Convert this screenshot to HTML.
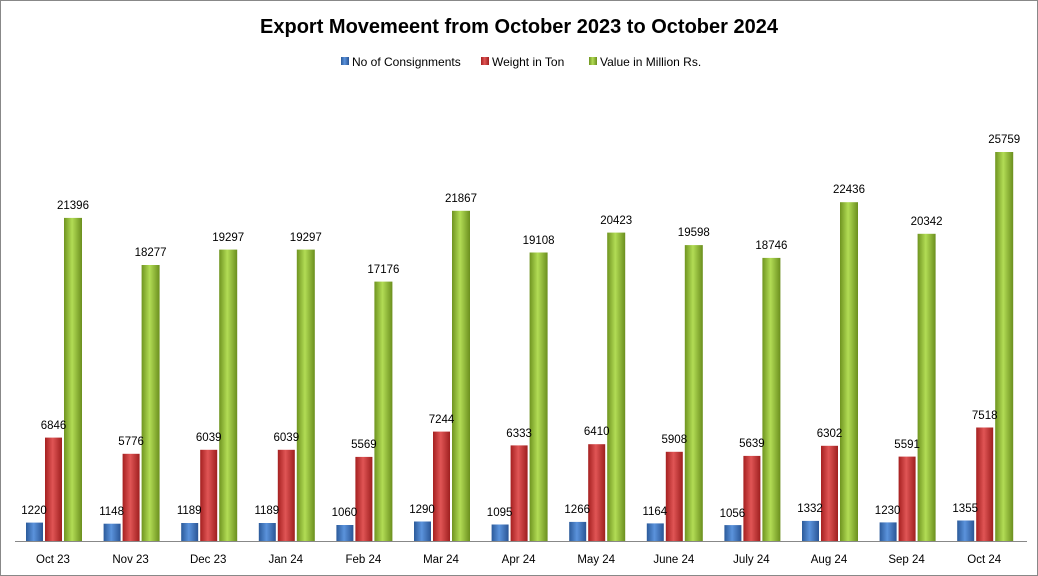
<!DOCTYPE html>
<html><head><meta charset="utf-8"><style>
html,body{margin:0;padding:0;background:#fff}
svg{display:block;font-family:"Liberation Sans",sans-serif}
</style></head><body>
<svg width="1038" height="576" viewBox="0 0 1038 576">
<defs>
<linearGradient id="b" x1="0" x2="1"><stop offset="0" stop-color="#2b5a9a"/><stop offset=".45" stop-color="#5b93dc"/><stop offset="1" stop-color="#2a5595"/></linearGradient>
<linearGradient id="r" x1="0" x2="1"><stop offset="0" stop-color="#a52020"/><stop offset=".45" stop-color="#e05555"/><stop offset="1" stop-color="#9e1f1f"/></linearGradient>
<linearGradient id="g" x1="0" x2="1"><stop offset="0" stop-color="#6f9420"/><stop offset=".45" stop-color="#b2dc55"/><stop offset="1" stop-color="#6b8f1e"/></linearGradient>
</defs>
<rect x="0.5" y="0.5" width="1037" height="575" fill="#fff" stroke="#888"/>
<text x="519" y="33" text-anchor="middle" font-size="20" font-weight="bold" fill="#000">Export Movemeent from October 2023 to October 2024</text>
<g font-size="12" fill="#000">
<rect x="341" y="57" width="8" height="8" fill="url(#b)"/><text x="352" y="66">No of Consignments</text>
<rect x="481" y="57" width="8" height="8" fill="url(#r)"/><text x="492" y="66">Weight in Ton</text>
<rect x="589" y="57" width="8" height="8" fill="url(#g)"/><text x="600" y="66">Value in Million Rs.</text>
</g>
<line x1="15" y1="541.5" x2="1027" y2="541.5" stroke="#888"/>
<g font-size="11.5" fill="#000" text-anchor="middle">
<g transform="translate(26,0)"><rect x="0" y="522.6" width="17" height="18.4" fill="url(#b)"/><rect x="19" y="437.6" width="17" height="103.4" fill="url(#r)"/><rect x="38" y="217.9" width="18" height="323.1" fill="url(#g)"/><text x="8" y="514">1220</text><text x="27.5" y="429">6846</text><text x="47" y="209">21396</text><text x="27" y="563">Oct 23</text></g>
<g transform="translate(103.6,0)"><rect x="0" y="523.7" width="17" height="17.3" fill="url(#b)"/><rect x="19" y="453.8" width="17" height="87.2" fill="url(#r)"/><rect x="38" y="265" width="18" height="276" fill="url(#g)"/><text x="8" y="515">1148</text><text x="27.5" y="445">5776</text><text x="47" y="256">18277</text><text x="27" y="563">Nov 23</text></g>
<g transform="translate(181.2,0)"><rect x="0" y="523" width="17" height="18" fill="url(#b)"/><rect x="19" y="449.8" width="17" height="91.2" fill="url(#r)"/><rect x="38" y="249.6" width="18" height="291.4" fill="url(#g)"/><text x="8" y="514">1189</text><text x="27.5" y="441">6039</text><text x="47" y="241">19297</text><text x="27" y="563">Dec 23</text></g>
<g transform="translate(258.8,0)"><rect x="0" y="523" width="17" height="18" fill="url(#b)"/><rect x="19" y="449.8" width="17" height="91.2" fill="url(#r)"/><rect x="38" y="249.6" width="18" height="291.4" fill="url(#g)"/><text x="8" y="514">1189</text><text x="27.5" y="441">6039</text><text x="47" y="241">19297</text><text x="27" y="563">Jan 24</text></g>
<g transform="translate(336.4,0)"><rect x="0" y="525" width="17" height="16" fill="url(#b)"/><rect x="19" y="456.9" width="17" height="84.1" fill="url(#r)"/><rect x="38" y="281.6" width="18" height="259.4" fill="url(#g)"/><text x="8" y="516">1060</text><text x="27.5" y="448">5569</text><text x="47" y="273">17176</text><text x="27" y="563">Feb 24</text></g>
<g transform="translate(414,0)"><rect x="0" y="521.5" width="17" height="19.5" fill="url(#b)"/><rect x="19" y="431.6" width="17" height="109.4" fill="url(#r)"/><rect x="38" y="210.8" width="18" height="330.2" fill="url(#g)"/><text x="8" y="513">1290</text><text x="27.5" y="423">7244</text><text x="47" y="202">21867</text><text x="27" y="563">Mar 24</text></g>
<g transform="translate(491.6,0)"><rect x="0" y="524.5" width="17" height="16.5" fill="url(#b)"/><rect x="19" y="445.4" width="17" height="95.6" fill="url(#r)"/><rect x="38" y="252.5" width="18" height="288.5" fill="url(#g)"/><text x="8" y="516">1095</text><text x="27.5" y="437">6333</text><text x="47" y="244">19108</text><text x="27" y="563">Apr 24</text></g>
<g transform="translate(569.2,0)"><rect x="0" y="521.9" width="17" height="19.1" fill="url(#b)"/><rect x="19" y="444.2" width="17" height="96.8" fill="url(#r)"/><rect x="38" y="232.6" width="18" height="308.4" fill="url(#g)"/><text x="8" y="513">1266</text><text x="27.5" y="435">6410</text><text x="47" y="224">20423</text><text x="27" y="563">May 24</text></g>
<g transform="translate(646.8,0)"><rect x="0" y="523.4" width="17" height="17.6" fill="url(#b)"/><rect x="19" y="451.8" width="17" height="89.2" fill="url(#r)"/><rect x="38" y="245.1" width="18" height="295.9" fill="url(#g)"/><text x="8" y="515">1164</text><text x="27.5" y="443">5908</text><text x="47" y="236">19598</text><text x="27" y="563">June 24</text></g>
<g transform="translate(724.4,0)"><rect x="0" y="525.1" width="17" height="15.9" fill="url(#b)"/><rect x="19" y="455.9" width="17" height="85.1" fill="url(#r)"/><rect x="38" y="257.9" width="18" height="283.1" fill="url(#g)"/><text x="8" y="517">1056</text><text x="27.5" y="447">5639</text><text x="47" y="249">18746</text><text x="27" y="563">July 24</text></g>
<g transform="translate(802,0)"><rect x="0" y="520.9" width="17" height="20.1" fill="url(#b)"/><rect x="19" y="445.8" width="17" height="95.2" fill="url(#r)"/><rect x="38" y="202.2" width="18" height="338.8" fill="url(#g)"/><text x="8" y="512">1332</text><text x="27.5" y="437">6302</text><text x="47" y="193">22436</text><text x="27" y="563">Aug 24</text></g>
<g transform="translate(879.6,0)"><rect x="0" y="522.4" width="17" height="18.6" fill="url(#b)"/><rect x="19" y="456.6" width="17" height="84.4" fill="url(#r)"/><rect x="38" y="233.8" width="18" height="307.2" fill="url(#g)"/><text x="8" y="514">1230</text><text x="27.5" y="448">5591</text><text x="47" y="225">20342</text><text x="27" y="563">Sep 24</text></g>
<g transform="translate(957.2,0)"><rect x="0" y="520.5" width="17" height="20.5" fill="url(#b)"/><rect x="19" y="427.5" width="17" height="113.5" fill="url(#r)"/><rect x="38" y="152" width="18" height="389" fill="url(#g)"/><text x="8" y="512">1355</text><text x="27.5" y="419">7518</text><text x="47" y="143">25759</text><text x="27" y="563">Oct 24</text></g>
</g>
</svg>
</body></html>
